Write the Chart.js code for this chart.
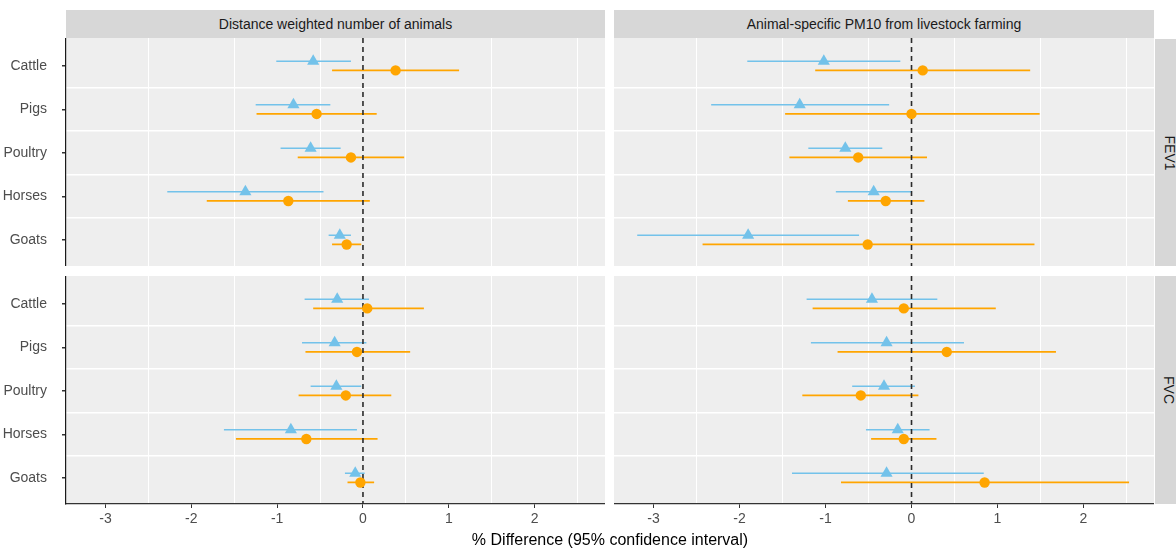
<!doctype html>
<html lang="en">
<head>
<meta charset="utf-8">
<title>% Difference by animal type</title>
<script src="https://cdn.jsdelivr.net/npm/chart.js@4.4.0/dist/chart.umd.min.js"></script>
<style>
  body { margin: 0; background: #fff; width: 1176px; height: 551px; overflow: hidden; position: relative;
         font-family: "Liberation Sans", Arial, sans-serif; }
  .box { position: absolute; }
  .box canvas { display: block; }
  .strip { position: absolute; background: #d7d7d7; color: #1a1a1a; font-size: 14px;
           display: flex; align-items: center; justify-content: center; white-space: nowrap; }
  .strip.side span { transform: rotate(90deg); display: block; }
  #xtitle { position: absolute; left: 66px; width: 1088px; top: 531px; text-align: center; font-size: 16px; color: #000; }
</style>
</head>
<body>

<div class="strip" style="left:66px; top:10px; width:539px; height:28px;">Distance weighted number of animals</div>
<div class="strip" style="left:614px; top:10px; width:540px; height:28px;">Animal-specific PM10 from livestock farming</div>
<div class="strip side" style="left:1155px; top:39px; width:28px; height:227px;"><span>FEV1</span></div>
<div class="strip side" style="left:1155px; top:276px; width:28px; height:228px;"><span>FVC</span></div>

<div class="box" style="left:0; top:38px;"><canvas id="tl" width="605" height="228"></canvas></div>
<div class="box" style="left:614px; top:38px;"><canvas id="tr" width="540" height="228"></canvas></div>
<div class="box" style="left:0; top:276px;"><canvas id="bl" width="605" height="275"></canvas></div>
<div class="box" style="left:614px; top:276px;"><canvas id="br" width="540" height="275"></canvas></div>

<div id="xtitle">% Difference (95% confidence interval)</div>

<script>
// categories and axis ticks
const animals = ['Cattle', 'Pigs', 'Poultry', 'Horses', 'Goats'];
const xTicks = [-3, -2, -1, 0, 1, 2];
const xGrid = [-2.5, -1.5, -0.5, 0.5, 1.5, 2.5];
const yGrid = [1.5, 2.5, 3.5, 4.5];

// distance weighted number of animals - FEV1
const dwFev1Tri   = [-0.58, -0.81, -0.61, -1.37, -0.27];
const dwFev1TriLo = [-1.01, -1.25, -0.96, -2.28, -0.40];
const dwFev1TriHi = [-0.14, -0.38, -0.26, -0.46, -0.14];
const dwFev1Dot   = [0.38, -0.54, -0.14, -0.87, -0.19];
const dwFev1DotLo = [-0.36, -1.24, -0.76, -1.82, -0.36];
const dwFev1DotHi = [1.12, 0.16, 0.48, 0.08, -0.02];

// animal-specific PM10 - FEV1
const pmFev1Tri   = [-1.02, -1.30, -0.77, -0.44, -1.90];
const pmFev1TriLo = [-1.91, -2.33, -1.20, -0.88, -3.19];
const pmFev1TriHi = [-0.13, -0.26, -0.34, 0.00, -0.61];
const pmFev1Dot   = [0.13, 0.00, -0.62, -0.30, -0.51];
const pmFev1DotLo = [-1.12, -1.47, -1.42, -0.74, -2.43];
const pmFev1DotHi = [1.38, 1.49, 0.18, 0.15, 1.43];

// distance weighted number of animals - FVC
const dwFvcTri   = [-0.30, -0.33, -0.31, -0.84, -0.09];
const dwFvcTriLo = [-0.68, -0.71, -0.61, -1.62, -0.21];
const dwFvcTriHi = [0.07, 0.04, -0.02, -0.07, 0.02];
const dwFvcDot   = [0.05, -0.07, -0.20, -0.66, -0.03];
const dwFvcDotLo = [-0.58, -0.67, -0.75, -1.48, -0.18];
const dwFvcDotHi = [0.71, 0.55, 0.33, 0.17, 0.13];

// animal-specific PM10 - FVC
const pmFvcTri   = [-0.46, -0.29, -0.32, -0.16, -0.29];
const pmFvcTriLo = [-1.22, -1.17, -0.69, -0.53, -1.39];
const pmFvcTriHi = [0.30, 0.61, 0.04, 0.21, 0.84];
const pmFvcDot   = [-0.09, 0.41, -0.59, -0.09, 0.85];
const pmFvcDotLo = [-1.15, -0.86, -1.27, -0.47, -0.82];
const pmFvcDotHi = [0.98, 1.68, 0.08, 0.29, 2.53];

const BLUE = '#73c2ea';
const ORANGE = '#ffa500';
const DODGE = 0.105;
const X_MIN = -3.46, X_MAX = 2.82;
const Y_MIN = 0.36, Y_MAX = 5.6;
const NONE = 'rgba(0,0,0,0)';

const panelBg = {
  id: 'panelBg',
  beforeDraw(chart) {
    const a = chart.chartArea, c = chart.ctx;
    c.save();
    c.fillStyle = '#eeeeee';
    c.fillRect(a.left, a.top, a.right - a.left, a.bottom - a.top);
    c.restore();
  }
};

function isInt(v) { return Math.abs(v - Math.round(v)) < 1e-9; }

// no extra label padding, the panel must fill its box
function noPad(s) { s.paddingTop = 0; s.paddingBottom = 0; s.paddingLeft = 0; s.paddingRight = 0; }

function panel(id, tri, triLo, triHi, dot, dotLo, dotHi, showY, showX) {
  const pts = (v, off) => v.map((x, i) => ({x: x, y: i + 1 + off}));
  const seg = (lo, hi, off) => {
    const out = [];
    for (let i = 0; i < animals.length; i++) {
      out.push({x: lo[i], y: i + 1 + off}, {x: hi[i], y: i + 1 + off}, {x: null, y: null});
    }
    return out;
  };

  new Chart(document.getElementById(id), {
    type: 'scatter',
    data: {
      datasets: [
        { data: pts(dot, DODGE), pointStyle: 'circle', pointRadius: 5.2, pointHoverRadius: 5.2,
          pointBackgroundColor: ORANGE, pointBorderColor: ORANGE, pointBorderWidth: 0 },
        { data: pts(tri, -DODGE), pointStyle: 'triangle', pointRadius: 7, pointHoverRadius: 7,
          pointBackgroundColor: BLUE, pointBorderColor: BLUE, pointBorderWidth: 0 },
        { type: 'line', data: [{x: 0, y: Y_MIN}, {x: 0, y: Y_MAX}], borderColor: '#2b2b2b',
          borderWidth: 1.6, borderDash: [5, 4], pointRadius: 0 },
        { type: 'line', data: seg(dotLo, dotHi, DODGE), borderColor: ORANGE, borderWidth: 1.8,
          pointRadius: 0, spanGaps: false },
        { type: 'line', data: seg(triLo, triHi, -DODGE), borderColor: BLUE, borderWidth: 1.4,
          pointRadius: 0, spanGaps: false }
      ]
    },
    options: {
      responsive: false,
      animation: false,
      layout: { padding: 0, autoPadding: false },
      plugins: { legend: { display: false }, tooltip: { enabled: false } },
      scales: {
        x: {
          type: 'linear', min: X_MIN, max: X_MAX,
          afterBuildTicks: s => { s.ticks = xTicks.concat(xGrid).sort((a, b) => a - b).map(v => ({value: v})); },
          afterFit: s => { s.height = showX ? 47 : 0; noPad(s); },
          border: { display: showX, color: '#333', width: 1.3 },
          grid: {
            color: c => isInt(c.tick.value) ? NONE : '#ffffff',
            lineWidth: 1,
            drawTicks: showX, tickLength: 4,
            tickColor: c => isInt(c.tick.value) ? '#333' : NONE
          },
          ticks: {
            display: showX, padding: 3, autoSkip: false, maxRotation: 0,
            color: '#4d4d4d', font: { family: '"Liberation Sans", Arial', size: 14 },
            callback: v => isInt(v) ? String(v) : ''
          }
        },
        y: {
          type: 'linear', reverse: true, min: Y_MIN, max: Y_MAX,
          afterBuildTicks: s => { s.ticks = [1, 1.5, 2, 2.5, 3, 3.5, 4, 4.5, 5].map(v => ({value: v})); },
          afterFit: s => { s.width = showY ? 66 : 0; noPad(s); },
          border: { display: showY, color: '#1a1a1a', width: 1.2 },
          grid: {
            color: c => yGrid.indexOf(c.tick.value) >= 0 ? '#ffffff' : NONE,
            lineWidth: 1.5,
            drawTicks: showY, tickLength: 4,
            tickColor: c => isInt(c.tick.value) ? '#333' : NONE
          },
          ticks: {
            display: showY, padding: 15, autoSkip: false,
            color: '#4d4d4d', font: { family: '"Liberation Sans", Arial', size: 14 },
            callback: v => isInt(v) ? animals[v - 1] : ''
          }
        }
      }
    },
    plugins: [panelBg]
  });
}

panel('tl', dwFev1Tri, dwFev1TriLo, dwFev1TriHi, dwFev1Dot, dwFev1DotLo, dwFev1DotHi, true, false);
panel('tr', pmFev1Tri, pmFev1TriLo, pmFev1TriHi, pmFev1Dot, pmFev1DotLo, pmFev1DotHi, false, false);
panel('bl', dwFvcTri, dwFvcTriLo, dwFvcTriHi, dwFvcDot, dwFvcDotLo, dwFvcDotHi, true, true);
panel('br', pmFvcTri, pmFvcTriLo, pmFvcTriHi, pmFvcDot, pmFvcDotLo, pmFvcDotHi, false, true);
</script>
</body>
</html>
